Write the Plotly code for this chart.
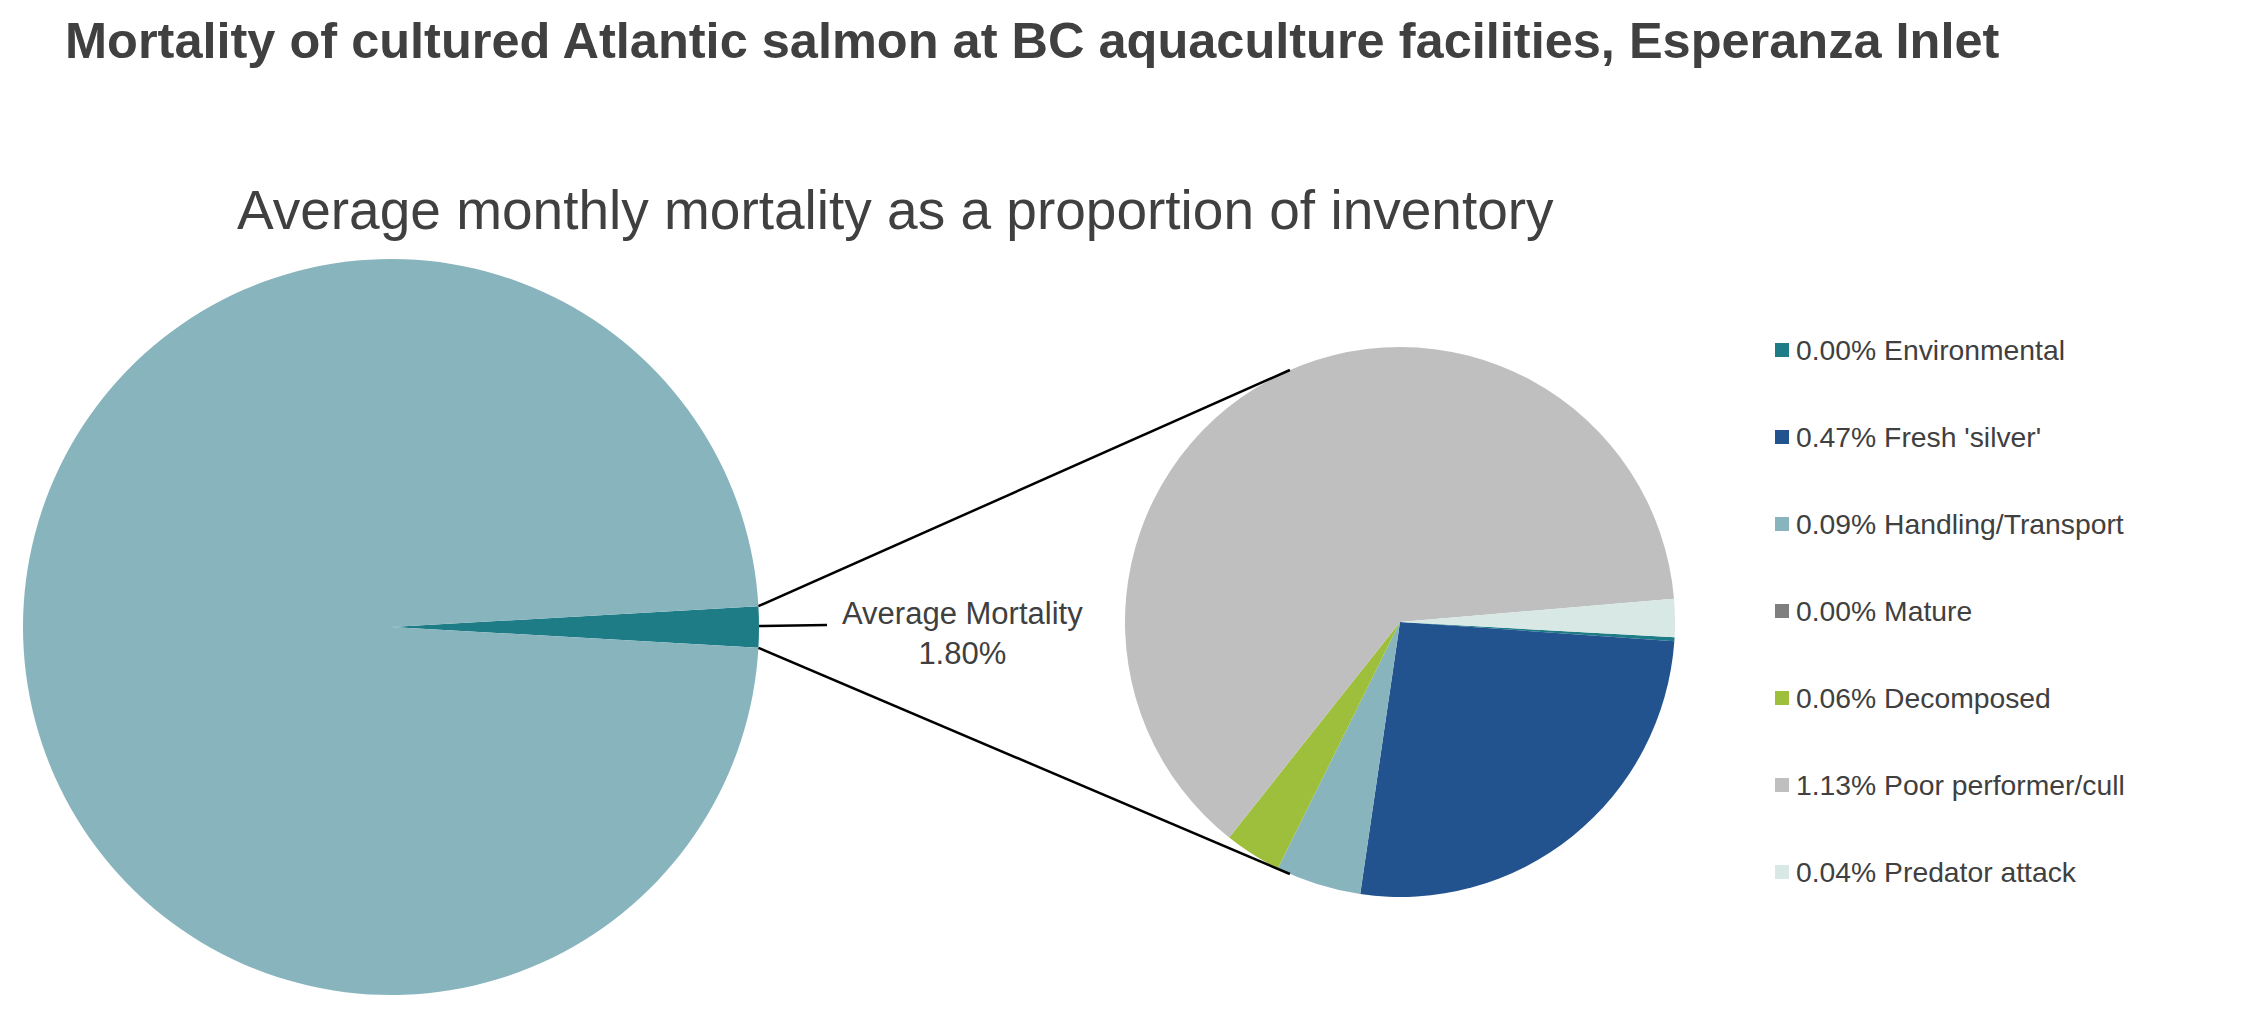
import math
import plotly.graph_objects as go

# data
overview_labels = ["Average Mortality", "Other"]
overview_values = [1.80, 98.20]
overview_colors = ["#1E7C86", "#88B4BD"]

cause_labels = ["Environmental", "Fresh 'silver'", "Handling/Transport", "Mature",
                "Decomposed", "Poor performer/cull", "Predator attack"]
cause_values = [0.004, 0.47, 0.09, 0.0, 0.06, 1.13, 0.04]
cause_colors = ["#1E7C86", "#22538F", "#88B4BD", "#7F7F7F", "#9EBF3C", "#BFBFBF", "#D8E8E5"]

W, H = 2244, 1033
TXT = "#404040"
FONT = "Liberation Sans, Arial, sans-serif"

# pie geometry in pixels
c1, r1 = (391, 627), 368
c2, r2 = (1400, 622), 275


def dom(c, r):
    return dict(x=[(c[0] - r) / W, (c[0] + r) / W],
                y=[1 - (c[1] + r) / H, 1 - (c[1] - r) / H])


half = overview_values[0] / sum(overview_values) * 360 / 2

fig = go.Figure()
fig.add_trace(go.Pie(labels=overview_labels, values=overview_values, sort=False,
                     direction="clockwise", rotation=90 - half, textinfo="none",
                     marker=dict(colors=overview_colors, line=dict(width=0)),
                     domain=dom(c1, r1), showlegend=False))
fig.add_trace(go.Pie(labels=cause_labels, values=cause_values, sort=False,
                     direction="clockwise", rotation=93.2, textinfo="none",
                     marker=dict(colors=cause_colors, line=dict(width=0)),
                     domain=dom(c2, r2), showlegend=False))

# connector lines between the two pies
a = math.radians(half)
b = math.radians(113.6)
for s in (-1, 1):
    x0 = c1[0] + r1 * math.cos(a)
    y0 = c1[1] + s * r1 * math.sin(a)
    x1 = c2[0] + r2 * math.cos(b)
    y1 = c2[1] + s * r2 * math.sin(b)
    fig.add_shape(type="line", x0=x0, y0=y0, x1=x1, y1=y1, xref="x", yref="y",
                  line=dict(color="black", width=2.5))

# leader line + label
fig.add_shape(type="line", x0=c1[0] + r1, y0=626, x1=827, y1=625, xref="x", yref="y",
              line=dict(color="black", width=2.5))
fig.add_annotation(x=962, y=633, xref="x", yref="y", showarrow=False,
                   text="Average Mortality<br>%.2f%%" % overview_values[0],
                   font=dict(size=31, color=TXT, family=FONT), align="center")

# legend
for i, (lab, val, col) in enumerate(zip(cause_labels, cause_values, cause_colors)):
    yc = 350 + i * 87
    fig.add_shape(type="rect", x0=1775, x1=1789, y0=yc - 7, y1=yc + 7, xref="x", yref="y",
                  fillcolor=col, line=dict(width=0))
    fig.add_annotation(x=1794, y=yc, xref="x", yref="y", showarrow=False,
                       xanchor="left", yanchor="middle",
                       text="%.2f%% %s" % (val, lab),
                       font=dict(size=28.3, color=TXT, family=FONT))

# titles
fig.add_annotation(x=63, y=40, xref="x", yref="y", showarrow=False, xanchor="left",
                   yanchor="middle",
                   text="<b>Mortality of cultured Atlantic salmon at BC aquaculture facilities, Esperanza Inlet</b>",
                   font=dict(size=50.5, color=TXT, family=FONT))
fig.add_annotation(x=895, y=210, xref="x", yref="y", showarrow=False,
                   text="Average monthly mortality as a proportion of inventory",
                   font=dict(size=55, color=TXT, family=FONT))

fig.update_layout(width=W, height=H, margin=dict(l=0, r=0, t=0, b=0),
                  paper_bgcolor="white", plot_bgcolor="white",
                  xaxis=dict(range=[0, W], visible=False, fixedrange=True),
                  yaxis=dict(range=[H, 0], visible=False, fixedrange=True))

fig.write_html("out.html", config={"displayModeBar": False},
               post_script="document.body.style.margin='0';")
